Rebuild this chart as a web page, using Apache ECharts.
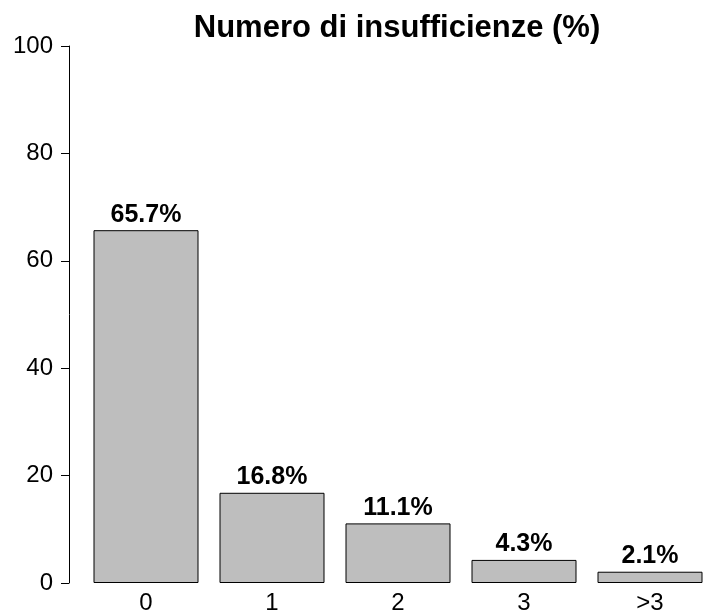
<!DOCTYPE html>
<html><head><meta charset="utf-8">
<script src="https://cdn.jsdelivr.net/npm/echarts@6/dist/echarts.min.js"></script>
<style>html,body{margin:0;padding:0;background:#fff}#c{width:703px;height:612px}</style>
</head><body><div id="c"></div>
<script>
const titleText = 'Numero di insufficienze (%)';
const categories = ['0', '1', '2', '3', '>3'];
const values = [65.7, 16.8, 11.1, 4.3, 2.1];
const yTicks = [0, 20, 40, 60, 80, 100];

const FONT = '"Liberation Sans", Arial, sans-serif';
const chart = echarts.init(document.getElementById('c'), null, {renderer: 'canvas'});
chart.setOption({
  animation: false,
  backgroundColor: '#fff',
  title: {
    text: titleText, left: 392, top: 8, textAlign: 'center',
    textStyle: {fontFamily: FONT, fontWeight: 'bold', fontSize: 31, color: '#000'}
  },
  grid: {left: 83, width: 630, top: 46, bottom: 29, containLabel: false, outerBoundsMode: 'none'},
  xAxis: {
    type: 'category', data: categories, boundaryGap: true,
    axisLine: {show: false}, axisTick: {show: false},
    axisLabel: {fontFamily: FONT, fontSize: 24, color: '#000', margin: 8}
  },
  yAxis: {
    type: 'value', min: yTicks[0], max: yTicks[yTicks.length - 1], interval: 20,
    offset: 14,
    splitLine: {show: false},
    axisLine: {show: true, lineStyle: {color: '#000', width: 1}},
    axisTick: {show: true, length: 8, lineStyle: {color: '#000', width: 1}},
    axisLabel: {fontFamily: FONT, fontSize: 24, color: '#000', margin: 16}
  },
  series: [{
    type: 'bar', data: values, barWidth: 105,
    itemStyle: {color: '#BEBEBE', borderColor: '#000', borderWidth: 1},
    label: {
      show: true, position: 'top', distance: 3,
      formatter: p => p.value.toFixed(1) + '%',
      fontFamily: FONT, fontWeight: 'bold', fontSize: 25, color: '#000'
    }
  }]
});
</script></body></html>
